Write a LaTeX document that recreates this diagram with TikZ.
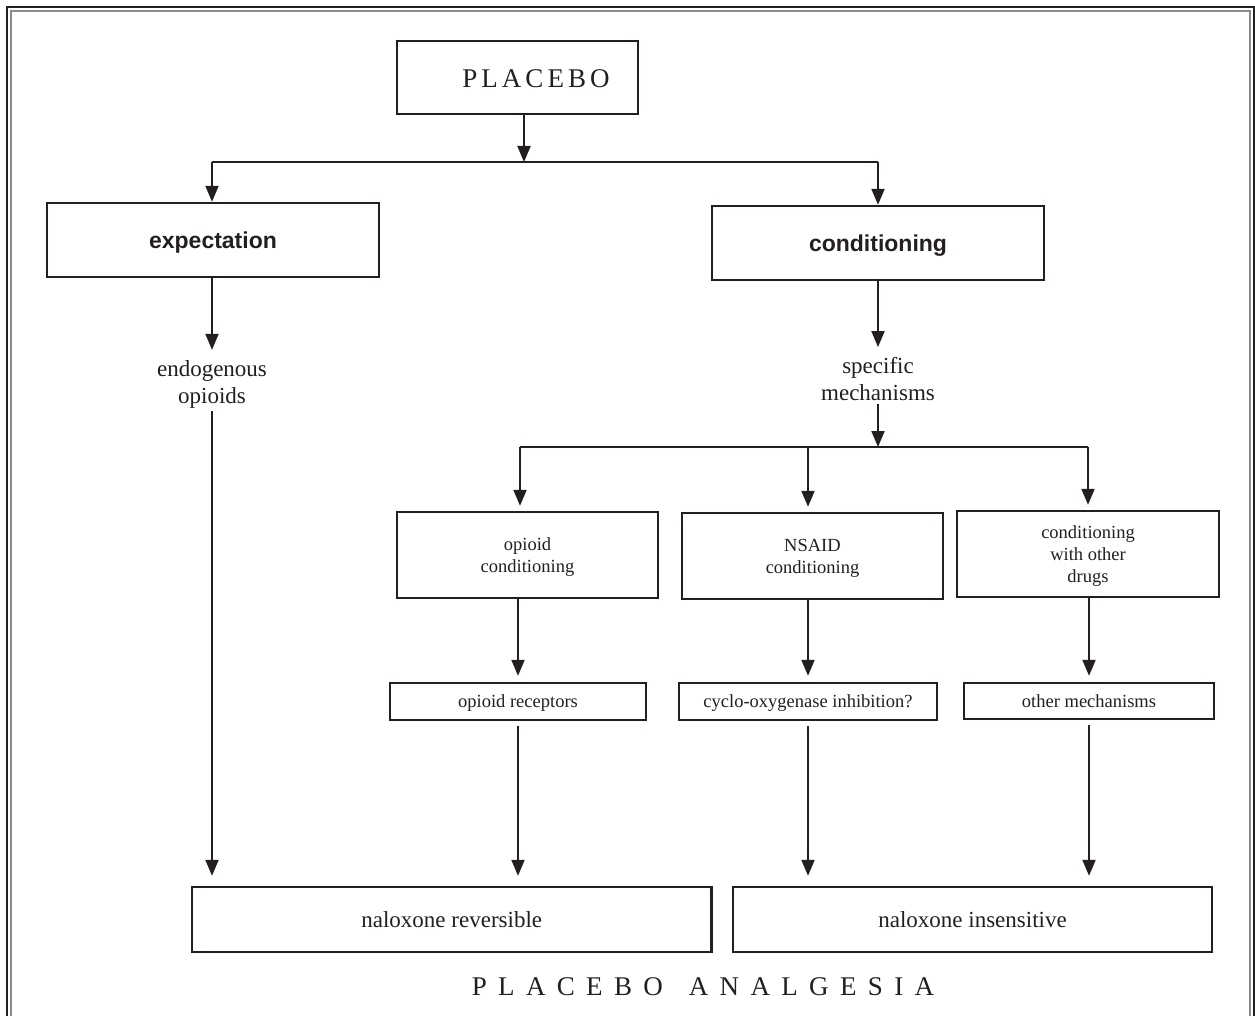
\documentclass[tikz,border=0pt]{standalone}
\usepackage{fontspec}
\setmainfont{Liberation Serif}
\newfontfamily\boldsans{Liberation Sans}[UprightFont=*-Bold]
\usetikzlibrary{arrows.meta}
\definecolor{ink}{HTML}{231F20}
\definecolor{framegray}{HTML}{8A8A8A}
\tikzset{
  box/.style={draw=ink, line width=2.4pt, inner sep=0pt, align=center, text=ink, text depth=0pt},
  plain/.style={inner sep=0pt, align=center, text=ink},
  conn/.style={draw=ink, line width=2pt},
  arr/.style={conn, -{Triangle[width=13pt,length=16pt]}},
  big/.style={font=\fontsize{23}{27}\selectfont},
  small/.style={font=\fontsize{18.5}{22}\selectfont},
  head/.style={font=\boldsans\fontsize{23}{27}\selectfont},
  caps/.style={font=\addfontfeature{LetterSpace=15}\fontsize{27}{30}\selectfont},
  capswide/.style={font=\addfontfeature{LetterSpace=42}\fontsize{27}{30}\selectfont},
}
\begin{document}
\begin{tikzpicture}[x=1pt,y=-1pt]
\useasboundingbox (0,0) rectangle (1255,1016);
\clip (0,0) rectangle (1255,1016);
\fill[white] (0,0) rectangle (1255,1016);
% frame
\draw[ink, line width=2.4pt] (7,7) rectangle (1254.5,1040);
\draw[framegray, line width=1.4pt] (11,11) rectangle (1250,1040);

% nodes
\node[box, minimum width=241pt, minimum height=73pt] (placebo) at (517.5,77.5) {};
\node[plain, caps] (placebotxt) at (536,79) {PLACEBO};

\node[box, head, minimum width=332pt, minimum height=74pt] (expect) at (213,240) {expectation};
\node[box, head, minimum width=332pt, minimum height=74pt] (cond) at (878,243) {conditioning};

\node[plain, big] (endo) at (212,384) {endogenous\\opioids};
\node[plain, big] (spec) at (878,379) {specific\\mechanisms};

\node[box, small, minimum width=261pt, minimum height=86pt] (opc) at (527.5,555) {opioid\\conditioning};
\node[box, small, minimum width=261pt, minimum height=86pt] (nsaid) at (812.5,556) {NSAID\\conditioning};
\node[box, small, minimum width=262pt, minimum height=86pt] (other) at (1088,554) {conditioning\\with other\\drugs};

\node[box, small, minimum width=256pt, minimum height=37pt] (oprec) at (518,701.5) {opioid receptors};
\node[box, small, minimum width=258pt, minimum height=37pt] (cox) at (808,701.5) {cyclo-oxygenase inhibition?};
\node[box, small, minimum width=250pt, minimum height=36pt] (othm) at (1089,701) {other mechanisms};

\node[box, big, minimum width=519.5pt, minimum height=65pt] (rev) at (451.75,919.5) {naloxone reversible};
\node[box, big, minimum width=479pt, minimum height=65pt] (ins) at (972.5,919.5) {naloxone insensitive};

\node[plain, capswide] (title) at (703,987) {PLACEBO\hspace{26pt}ANALGESIA};

% junctions
\coordinate (j1) at (524,162);
\coordinate (j1l) at (212,162);
\coordinate (j1r) at (878,162);
\coordinate (j2) at (878,447);
\coordinate (j2l) at (520,447);
\coordinate (j2m) at (808,447);
\coordinate (j2r) at (1088,447);

% connectors
\draw[arr] (j1 |- placebo.south) -- (j1);
\draw[conn] (j1l) -- (j1r);
\draw[arr] (j1l) -- (j1l |- expect.north);
\draw[arr] (j1r) -- (j1r |- cond.north);

\draw[arr, shorten >=10pt] (cond.south) -- (spec.north);
\draw[arr, shorten >=10pt] (expect.south -| j1l) -- (endo.north -| j1l);

\draw[arr, shorten <=3pt] (spec.south) -- (j2);
\draw[conn] (j2l) -- (j2r);
\draw[arr, shorten >=5pt] (j2l) -- (j2l |- opc.north);
\draw[arr, shorten >=5pt] (j2m) -- (j2m |- nsaid.north);
\draw[arr, shorten >=5pt] (j2r) -- (j2r |- other.north);

\draw[arr, shorten >=6pt] (opc.south -| oprec) -- (oprec.north);
\draw[arr, shorten >=6pt] (nsaid.south -| cox) -- (cox.north);
\draw[arr, shorten >=6pt] (other.south -| othm) -- (othm.north);

\draw[arr, shorten <=3pt, shorten >=10pt] (endo.south -| j1l) -- (rev.north -| j1l);
\draw[arr, shorten <=5pt, shorten >=10pt] (oprec.south) -- (rev.north -| oprec);
\draw[arr, shorten <=5pt, shorten >=10pt] (cox.south) -- (ins.north -| cox);
\draw[arr, shorten <=5pt, shorten >=10pt] (othm.south) -- (ins.north -| othm);
\end{tikzpicture}
\end{document}
